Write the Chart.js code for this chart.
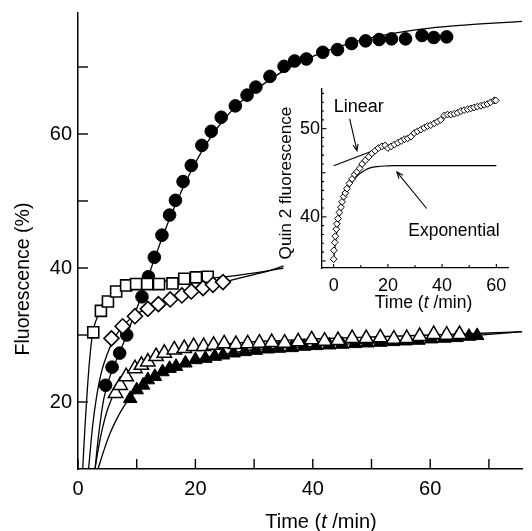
<!DOCTYPE html>
<html><head><meta charset="utf-8">
<script src="https://cdn.jsdelivr.net/npm/chart.js@4/dist/chart.umd.min.js"></script>
<style>
html,body{margin:0;padding:0;background:#fff;}
#wrap{position:relative;width:532px;height:531px;overflow:hidden;background:#fff;}
#main{position:absolute;left:0;top:0;}
#inset{position:absolute;left:262px;top:80px;}
</style></head><body>
<div id="wrap"><canvas id="main" width="532" height="531"></canvas><canvas id="inset" width="270" height="240"></canvas></div>
<script>
// ---------- main chart data (time in min, fluorescence in %) ----------
const circleT = [4.7,5.8,7.1,8.3,10.9,12.0,13.0,14.3,15.6,16.6,17.9,19.3,21.1,22.7,24.4,26.8,28.8,30.3,32.7,35.1,36.9,38.9,41.7,44.2,46.6,49.0,51.3,53.4,55.8,58.6,60.6,62.8];
const circleV = [22.5,25.2,27.3,30.0,35.7,38.7,41.6,44.9,47.9,50.1,52.9,55.3,58.3,60.4,62.5,64.2,65.8,67.0,68.6,70.1,70.9,71.2,72.2,72.6,73.5,73.9,74.1,74.2,74.2,74.7,74.4,74.5];
const squareT = [2.6,3.9,5.1,6.5,8.2,9.9,11.8,13.8,16.1,18.1,20.1,22.1];
const squareV = [30.4,33.6,35.0,36.5,37.4,37.6,37.6,37.6,37.7,38.4,38.6,38.7];
const diamondT = [5.7,7.6,9.7,11.9,13.7,15.7,17.7,19.3,21.3,23.0,24.7];
const diamondV = [29.5,31.3,32.8,33.9,34.6,35.3,35.9,36.5,37.0,37.5,37.9];
const openTriT = [6.4,7.2,8.2,9.7,10.8,11.9,13.3,14.7,16.4,18.1,19.7,21.4,23.1,24.9,26.9,28.9,30.9,33.0,35.2,37.5,39.8,42.0,44.3,46.7,49.1,51.5,53.8,56.0,58.2,60.6,62.8,65.0];
const openTriV = [21.3,22.5,23.8,25.0,25.5,26.0,26.8,27.3,27.8,28.0,28.3,28.3,28.5,28.7,28.6,28.7,28.8,28.9,28.8,29.0,29.3,29.1,29.2,29.5,29.5,29.6,29.4,29.5,29.8,30.1,30.0,30.1];
const fillTriT = [8.9,10.0,11.1,11.9,13.1,14.4,15.6,16.7,18.3,20.0,21.7,23.3,24.7,26.5,28.4,30.3,32.3,34.2,36.4,38.5,40.6,42.8,45.0,47.2,49.3,51.5,53.7,55.8,58.0,60.2,62.4,64.5,66.6,68.0];
const fillTriV = [20.5,21.8,22.5,23.3,23.8,24.5,25.0,25.3,25.8,26.3,26.5,26.8,27.0,27.3,27.5,27.7,27.9,28.0,28.1,28.3,28.4,28.5,28.6,28.7,28.8,28.9,29.0,29.1,29.2,29.4,29.5,29.6,29.8,29.9];

// fitted curves
const circleFitT = [2.9,3.5,4.4,5.6,7.0,8.3,9.5,10.9,12.0,13.0,14.0,15.0,16.0,17.0,18.0,19.0,20.0,22.0,24.0,26.0,28.0,30.0,33.0,36.0,40.0,45.0,50.0,55.0,60.0,65.0,70.0,75.7];
const circleFitV = [10.0,15.0,20.5,24.2,27.2,30.0,32.8,36.0,38.8,41.3,43.7,46.0,48.2,50.2,52.2,54.0,55.7,58.7,61.2,63.3,65.0,66.4,68.3,69.9,71.6,73.2,74.4,75.2,75.8,76.2,76.5,76.8];
const squareFitT = [0.8,1.2,1.6,2.0,2.5,3.0,3.9,5.0,6.6,8.2,10,13,16,20,24,28,32.6,35];
const squareFitV = [10,16.5,22,26.5,30.3,32.0,33.8,35.2,36.4,37.1,37.6,37.9,38.1,38.4,38.6,39.0,39.6,40.0];
const diamondFitT = [1.8,2.5,3.2,4.0,5.0,6.0,7.5,9.5,12,15,18,21,24,28,32.6,35];
const diamondFitV = [10,16.5,21,24.5,27.2,29.2,31.2,32.8,34.1,35.3,36.2,37.0,37.7,38.6,39.6,40.3];
const openTriFitT = [2.9,3.5,4.2,5.0,6.0,7.0,8.2,9.7,11.5,13.5,16,19,23,27,30,35,40,50,60,70,75.7];
const openTriFitV = [10,13.2,16.2,18.8,21.0,22.6,24.0,25.2,26.2,27.0,27.6,28.1,28.5,28.8,29.0,29.2,29.4,29.7,30.0,30.3,30.5];
const fillTriFitT = [3.4,4.5,5.5,6.5,7.5,8.5,9.5,11,12.5,14.5,17,20,23,26,30,35,40,45,50,55,60,65,70,75.7];
const fillTriFitV = [10,13.0,15.4,17.3,18.9,20.2,21.3,22.6,23.6,24.6,25.5,26.3,26.9,27.3,27.8,28.1,28.3,28.6,28.8,29.0,29.3,29.7,30.1,30.5];

const mainXTicks = [0,10,20,30,40,50,60,70];
const mainXLabels = [0,20,40,60];
const mainYTicks = [20,30,40,50,60,70];
const mainYLabels = [20,40,60];

// ---------- inset data (Quin 2 fluorescence) ----------
const insetT = [0,0.1,0.4,0.6,1.0,1.2,1.6,2.1,2.7,3.1,3.7,4.3,4.9,5.8,6.8,7.7,8.6,9.6,10.5,11.7,12.9,14.1,15.3,16.5,17.8,19.0,20.0,21.2,22.4,23.7,24.9,26.1,27.3,28.5,29.7,30.9,32.2,33.4,34.6,35.8,37.1,38.3,39.5,40.8,42.0,43.2,44.5,45.7,46.9,48.1,49.4,50.6,51.8,53.0,54.3,55.5,56.7,57.9,59.2,59.8];
const insetV = [35.2,36.2,37.1,37.8,38.6,39.2,39.8,40.5,41.1,41.7,42.3,42.7,43.2,43.8,44.3,44.8,45.1,45.5,46.0,46.4,46.8,47.2,47.5,47.8,48.0,48.1,47.8,48.0,48.2,48.4,48.6,48.8,48.9,49.1,49.5,49.7,49.9,50.1,50.3,50.4,50.6,50.8,51.0,51.5,51.6,51.6,51.7,51.8,52.0,52.1,52.2,52.3,52.4,52.5,52.6,52.7,52.8,53.0,53.2,53.2];
const linearT = [0,15];
const linearV = [45.8,47.55];
const expT = [0,1,2,3,4,5,6,7,8,9.2,10.5,12.9,16,20,22.7,60];
const expV = [35.2,37.9,39.8,41.2,42.2,42.9,43.5,44.0,44.4,44.8,45.1,45.5,45.7,45.78,45.8,45.8];
const insetXTicks = [0,10,20,30,40,50,60];
const insetXLabels = [0,20,40,60];
const insetYLabels = [40,50];
// annotations: [text, x, y, size] and arrows [x1,y1,x2,y2] in inset data units
const insetNotes = [["Linear",0,51.85,18],["Exponential",27.5,37.8,17.5]];
const insetArrows = [[5.9,51.1,8.6,47.5],[34.3,40.95,23.3,45.1]];

const FF = '"Liberation Sans", Arial, Helvetica, sans-serif';
Chart.defaults.font.family = FF;
Chart.defaults.color = '#000';

const pts = (t, v) => t.map((x, i) => ({x, y: v[i]}));

function curve(t, v, w) {
  return {data: pts(t, v), borderColor: '#000', borderWidth: w || 1.3, pointRadius: 0,
          cubicInterpolationMode: 'monotone', fill: false, order: 10};
}
function marks(t, v, style, r, fill, bw, order) {
  return {data: pts(t, v), showLine: false, pointStyle: style, pointRadius: r,
          pointBackgroundColor: fill, pointBorderColor: '#000', pointBorderWidth: bw, order};
}
function noPad(s) { s.paddingTop = 0; s.paddingBottom = 0; s.paddingLeft = 0; s.paddingRight = 0; }

function drawTime(ctx, cx, base, size) {
  const parts = [['Time (', false], ['t', true], [' /min)', false]];
  const ws = parts.map(([s, it]) => { ctx.font = (it ? 'italic ' : '') + size + 'px ' + FF; return ctx.measureText(s).width; });
  let x = cx - ws.reduce((a, b) => a + b, 0) / 2;
  ctx.textAlign = 'left'; ctx.textBaseline = 'alphabetic'; ctx.fillStyle = '#000';
  parts.forEach(([s, it], i) => { ctx.font = (it ? 'italic ' : '') + size + 'px ' + FF; ctx.fillText(s, x, base); x += ws[i]; });
}

const mainDeco = {
  id: 'mainDeco',
  afterDraw(chart) {
    const {ctx, chartArea: a, scales: {x, y}} = chart;
    ctx.save();
    ctx.strokeStyle = '#000'; ctx.lineWidth = 1.4;
    mainXTicks.forEach(v => { const p = x.getPixelForValue(v); ctx.beginPath(); ctx.moveTo(p, a.bottom); ctx.lineTo(p, a.bottom - 10); ctx.stroke(); });
    mainYTicks.forEach(v => { const p = y.getPixelForValue(v); ctx.beginPath(); ctx.moveTo(a.left, p); ctx.lineTo(a.left + 10, p); ctx.stroke(); });
    drawTime(ctx, a.left + 243, a.bottom + 59, 20);
    ctx.translate(29, a.top + 266); ctx.rotate(-Math.PI / 2);
    ctx.font = '19.5px ' + FF; ctx.textAlign = 'center'; ctx.textBaseline = 'alphabetic';
    ctx.fillText('Fluorescence (%)', 0, 0);
    ctx.restore();
  }
};

new Chart(document.getElementById('main'), {
  type: 'line',
  data: {datasets: [
    curve(circleFitT, circleFitV), curve(squareFitT, squareFitV), curve(diamondFitT, diamondFitV),
    curve(openTriFitT, openTriFitV), curve(fillTriFitT, fillTriFitV),
    marks(circleT, circleV, 'circle', 6.3, '#000', 1, 5),
    marks(squareT, squareV, 'rect', 7.8, '#fff', 1.6, 4),
    marks(diamondT, diamondV, 'rectRot', 7.5, '#fff', 1.6, 3),
    marks(fillTriT, fillTriV, 'triangle', 7.8, '#000', 1, 2),
    marks(openTriT, openTriV, 'triangle', 8.3, '#fff', 1.5, 1)
  ]},
  options: {
    responsive: false, animation: false, devicePixelRatio: 1, events: [],
    layout: {padding: {top: 13, right: 0, left: 0, bottom: 0}},
    plugins: {legend: {display: false}, tooltip: {enabled: false}},
    scales: {
      x: {type: 'linear', min: 0, max: 75.67, grid: {display: false, drawTicks: false},
          border: {display: true, color: '#000', width: 1.5},
          ticks: {stepSize: 10, includeBounds: false, maxRotation: 0, autoSkip: false, padding: 8, font: {size: 20},
                  callback: v => mainXLabels.includes(v) ? String(v) : ''},
          afterFit: s => { s.height = 62; noPad(s); }},
      y: {type: 'linear', min: 10, max: 78.06, grid: {display: false, drawTicks: false},
          border: {display: true, color: '#000', width: 1.5},
          ticks: {stepSize: 10, includeBounds: false, autoSkip: false, padding: 6, font: {size: 20},
                  callback: v => mainYLabels.includes(v) ? String(v) : ''},
          afterFit: s => { s.width = 78; noPad(s); }}
    }
  },
  plugins: [mainDeco]
});

const insetDeco = {
  id: 'insetDeco',
  afterDraw(chart) {
    const {ctx, chartArea: a, scales: {x, y}} = chart;
    ctx.save();
    ctx.strokeStyle = '#000'; ctx.lineWidth = 1.1;
    insetXTicks.forEach(v => { const p = x.getPixelForValue(v); const l = v % 20 === 0 ? 4 : 3; ctx.beginPath(); ctx.moveTo(p, a.bottom); ctx.lineTo(p, a.bottom - l); ctx.stroke(); });
    for (let v = 35; v <= 54; v++) {
      const p = y.getPixelForValue(v); const l = v % 10 === 0 ? 4.5 : (v % 5 === 0 ? 3.5 : 2);
      ctx.beginPath(); ctx.moveTo(a.left, p); ctx.lineTo(a.left + l, p); ctx.stroke();
    }
    ctx.fillStyle = '#000';
    insetNotes.forEach(([s, tx, ty, size]) => {
      ctx.font = size + 'px ' + FF; ctx.textAlign = 'left'; ctx.textBaseline = 'alphabetic';
      ctx.fillText(s, x.getPixelForValue(tx), y.getPixelForValue(ty));
    });
    ctx.lineWidth = 1.1;
    insetArrows.forEach(([x1, y1, x2, y2]) => {
      const X1 = x.getPixelForValue(x1), Y1 = y.getPixelForValue(y1), X2 = x.getPixelForValue(x2), Y2 = y.getPixelForValue(y2);
      const ang = Math.atan2(Y2 - Y1, X2 - X1), h = 7, sp = 0.38;
      ctx.beginPath(); ctx.moveTo(X1, Y1); ctx.lineTo(X2, Y2);
      ctx.moveTo(X2 - h * Math.cos(ang - sp), Y2 - h * Math.sin(ang - sp)); ctx.lineTo(X2, Y2);
      ctx.lineTo(X2 - h * Math.cos(ang + sp), Y2 - h * Math.sin(ang + sp));
      ctx.stroke();
    });
    drawTime(ctx, a.left + 101.5, a.bottom + 40.3, 17.5);
    ctx.translate(a.left - 31, a.top + 94); ctx.rotate(-Math.PI / 2);
    ctx.font = '17.2px ' + FF; ctx.textAlign = 'center'; ctx.textBaseline = 'alphabetic';
    ctx.fillText('Quin 2 fluorescence', 0, 0);
    ctx.restore();
  }
};

new Chart(document.getElementById('inset'), {
  type: 'line',
  data: {datasets: [
    Object.assign(curve(linearT, linearV, 1.2), {cubicInterpolationMode: 'default', tension: 0}),
    curve(expT, expV, 1.2),
    marks(insetT, insetV, 'rectRot', 3.4, '#fff', 1, 1)
  ]},
  options: {
    responsive: false, animation: false, devicePixelRatio: 1, events: [],
    layout: {padding: {top: 9, right: 24, left: 0, bottom: 0}},
    plugins: {legend: {display: false}, tooltip: {enabled: false}},
    scales: {
      x: {type: 'linear', min: -4.3, max: 64.3, grid: {display: false, drawTicks: false},
          border: {display: true, color: '#000', width: 1.3},
          ticks: {stepSize: 10, includeBounds: false, maxRotation: 0, autoSkip: false, padding: 7, font: {size: 18},
                  callback: v => insetXLabels.includes(v) ? String(v) : ''},
          afterFit: s => { s.height = 52; noPad(s); }},
      y: {type: 'linear', min: 34.2, max: 54.5, grid: {display: false, drawTicks: false},
          border: {display: true, color: '#000', width: 1.3},
          ticks: {stepSize: 10, includeBounds: false, autoSkip: false, padding: 2, font: {size: 18},
                  callback: v => insetYLabels.includes(v) ? String(v) : ''},
          afterFit: s => { s.width = 60; noPad(s); }}
    }
  },
  plugins: [insetDeco]
});
</script>
</body></html>
